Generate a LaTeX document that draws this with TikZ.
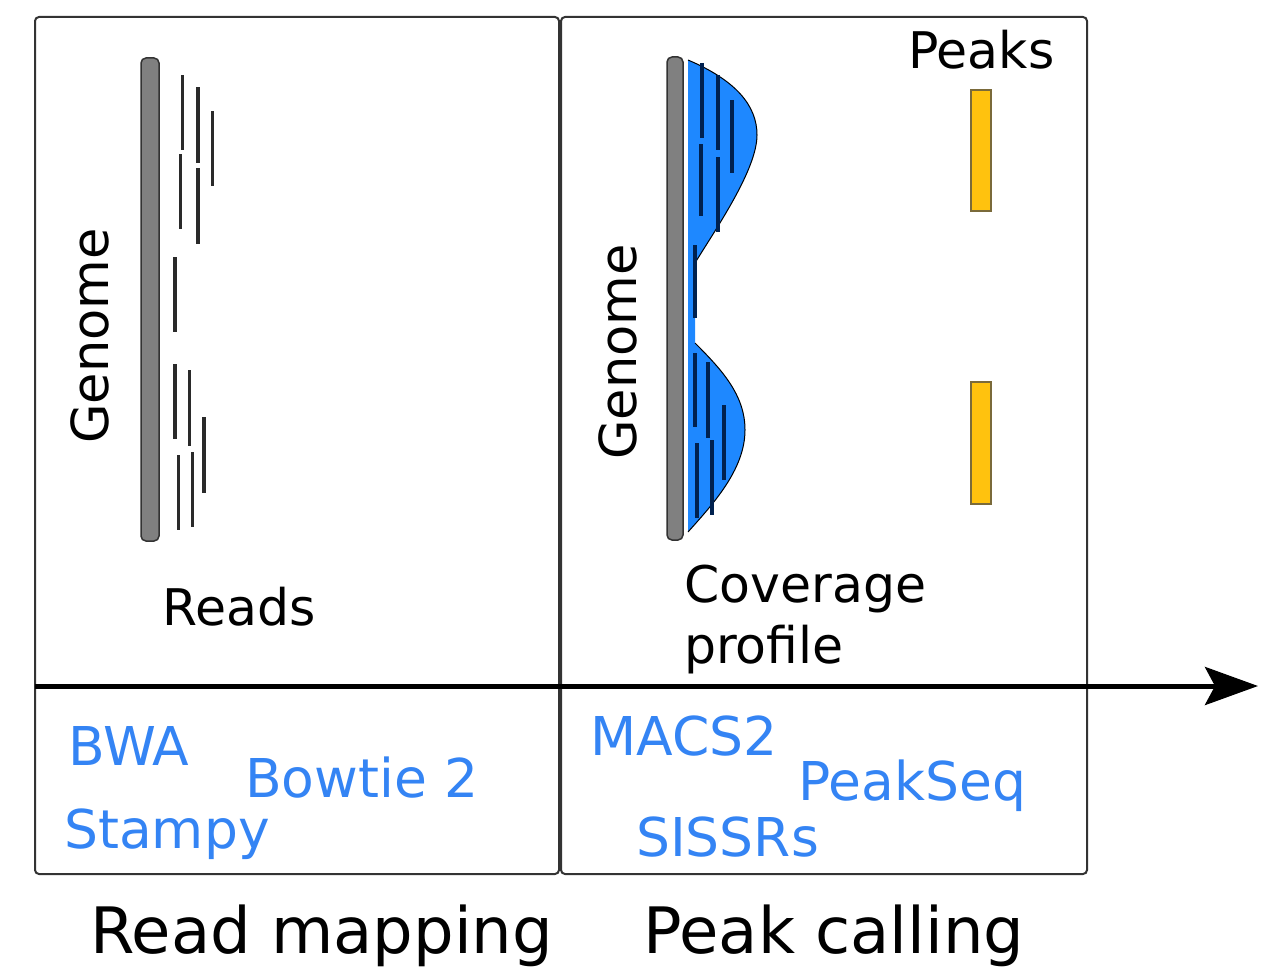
\documentclass[tikz,border=0pt]{standalone}
\usepackage{fontspec}
\setmainfont{DejaVu Sans}
\usetikzlibrary{arrows.meta}
\definecolor{frameC}{HTML}{333333}
\definecolor{barC}{HTML}{808080}
\definecolor{readC}{HTML}{2A2A2A}
\definecolor{covC}{HTML}{1E88FF}
\definecolor{covread}{HTML}{00214F}
\definecolor{toolC}{HTML}{3484F4}
\definecolor{peakC}{HTML}{FFC20E}
\definecolor{peakD}{HTML}{7A6A3A}
\tikzset{
  panel/.style={draw=frameC, line width=2pt, rounded corners=4pt},
  genomebar/.style={draw=frameC, fill=barC, line width=1.5pt, rounded corners=5pt},
  readln/.style={draw=readC, line width=3.5pt},
  covln/.style={draw=covread, line width=3.5pt},
  peakbox/.style={draw=peakD, fill=peakC, line width=1.5pt},
  lbl/.style={inner sep=0pt, font=\fontsize{50.5}{60}\selectfont},
  genlbl/.style={inner sep=0pt, font=\fontsize{51}{60}\selectfont},
  tool/.style={inner sep=0pt, text=toolC, font=\fontsize{53.5}{62}\selectfont},
  captext/.style={inner sep=0pt, font=\fontsize{64}{72}\selectfont},
}
\begin{document}
\begin{tikzpicture}[x=1pt,y=-1pt]
\useasboundingbox (0,0) rectangle (1276,974);
% panels
\draw[panel] (35,17) rectangle (559,874);
\draw[panel] (561,17) rectangle (1087,874);
% axis arrow
\coordinate (axL) at (35,686);
\coordinate (axR) at (1258,686);
\draw[line width=5pt, -{Stealth[length=53pt,width=38pt,inset=10pt]}] (axL) -- (axR);
% left genome
\draw[genomebar] (141,58) rectangle (159,541);
\node[genlbl, rotate=90, anchor=base] (g1) at (108,336) {Genome};
% reads
\draw[readln] (182.7,75) -- (182.7,150);
\draw[readln] (198,87) -- (198,163);
\draw[readln] (212.7,111) -- (212.7,186);
\draw[readln] (180.7,154) -- (180.7,229);
\draw[readln] (198,168) -- (198,244);
\draw[readln] (175,257) -- (175,332);
\draw[readln] (175,364) -- (175,439);
\draw[readln] (189.3,370) -- (189.3,446);
\draw[readln] (204,417) -- (204,493);
\draw[readln] (178.3,455) -- (178.3,530);
\draw[readln] (192.3,452) -- (192.3,527);
\node[lbl, anchor=base west] (reads) at (162,625) {Reads};
% right genome
\draw[genomebar] (667,57) rectangle (683,540);
\node[genlbl, rotate=90, anchor=base] (g2) at (636,352) {Genome};
% coverage
\fill[covC] (688,60) .. controls (735,80) and (757,105) .. (757,135)
  .. controls (757,170) and (715,230) .. (695,263) -- (695,343)
  .. controls (722,370) and (745,395) .. (745,430)
  .. controls (745,470) and (712,505) .. (688,532) -- cycle;
\draw[black, line width=1pt] (688,60) .. controls (735,80) and (757,105) .. (757,135)
  .. controls (757,170) and (715,230) .. (695,263);
\draw[black, line width=1pt] (695,343)
  .. controls (722,370) and (745,395) .. (745,430)
  .. controls (745,470) and (712,505) .. (688,532);
\draw[covln] (702,63) -- (702,138);
\draw[covln] (718,75) -- (718,150);
\draw[covln] (732,100) -- (732,173);
\draw[covln] (701,144) -- (701,216);
\draw[covln] (718,157) -- (718,232);
\draw[covln] (695,245) -- (695,318);
\draw[covln] (695,353) -- (695,427);
\draw[covln] (708,362) -- (708,438);
\draw[covln] (724,405) -- (724,480);
\draw[covln] (697,443) -- (697,518);
\draw[covln] (712,440) -- (712,515);
\node[lbl, anchor=base west] (cov1) at (684,602) {Coverage};
\node[lbl, anchor=base west] (cov2) at (684,663) {profile};
% peaks
\node[lbl, anchor=base west] (peaks) at (908,68) {Peaks};
\draw[peakbox] (971,90) rectangle (991,211);
\draw[peakbox] (971,382) rectangle (991,504);
% tools
\node[tool, anchor=base west] (bwa) at (68,765) {BWA};
\node[tool, anchor=base west] (bowtie) at (245,797) {Bowtie 2};
\node[tool, anchor=base west] (stampy) at (64,848) {Stampy};
\node[tool, anchor=base west] (macs) at (590,755) {MACS2};
\node[tool, anchor=base west] (peakseq) at (798,800) {PeakSeq};
\node[tool, anchor=base west] (sissrs) at (636,856) {SISSRs};
% captions
\node[captext, anchor=base west] (rm) at (90,953) {Read mapping};
\node[captext, anchor=base west] (pc) at (643,953) {Peak calling};
\end{tikzpicture}
\end{document}
